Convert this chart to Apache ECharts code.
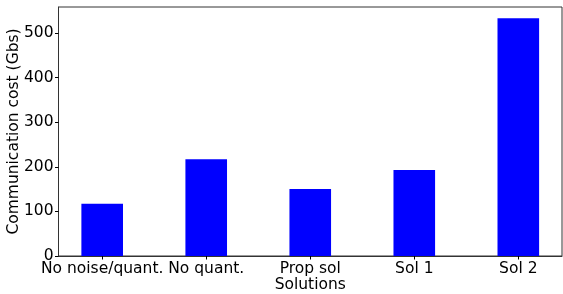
<!DOCTYPE html>
<html>
<head>
<meta charset="utf-8">
<script src="https://cdn.jsdelivr.net/npm/echarts@6/dist/echarts.min.js"></script>
<style>
    html, body { margin: 0; padding: 0; background: #fff; }
    #chart { width: 563px; height: 294px; }
</style>
</head>
<body>
<div id="chart"></div>
<script>
    // values
    var categories = ['No noise/quant.', 'No quant.', 'Prop sol', 'Sol 1', 'Sol 2']
    var costs = [117, 217, 150, 193, 533]
    var yTicks = [0, 100, 200, 300, 400, 500]

    var positions = categories.map(function (c, i) { return i })
    var barData = costs.map(function (v, i) { return [positions[i], v] })

    var font = 'DejaVu Sans'
    var fontSize = 15.5
    var lineColor = '#333'

    var chart = echarts.init(document.getElementById('chart'))
    chart.setOption({
        animation: false,
        grid: {
            left: 58.5,
            right: 1,
            top: 7,
            bottom: 38,
            show: true,
            borderColor: lineColor,
            borderWidth: 1,
            containLabel: false,
            outerBoundsMode: 'none'
        },
        xAxis: {
            type: 'value',
            min: -0.42,
            max: 4.42,
            name: 'Solutions',
            nameLocation: 'middle',
            nameGap: 21,
            nameMoveOverlap: false,
            nameTextStyle: { fontFamily: font, fontSize: fontSize, color: '#000' },
            splitLine: { show: false },
            axisLine: { show: true, onZero: false, lineStyle: { color: lineColor, width: 1 } },
            axisTick: { show: true, length: 3.5, customValues: positions, lineStyle: { color: '#000' } },
            axisLabel: {
                customValues: positions,
                margin: 5,
                fontFamily: font,
                fontSize: fontSize,
                color: '#000',
                formatter: function (v) { return categories[Math.round(v)] }
            }
        },
        yAxis: {
            type: 'value',
            min: 0,
            max: 558,
            name: 'Communication cost (Gbs)',
            nameLocation: 'middle',
            nameGap: 37,
            nameMoveOverlap: false,
            nameTextStyle: { fontFamily: font, fontSize: fontSize, color: '#000' },
            splitLine: { show: false },
            axisLine: { show: true, onZero: false, lineStyle: { color: lineColor, width: 1 } },
            axisTick: { show: true, length: 3.5, customValues: yTicks, lineStyle: { color: '#000' } },
            axisLabel: {
                customValues: yTicks,
                margin: 5,
                fontFamily: font,
                fontSize: fontSize,
                color: '#000'
            }
        },
        series: [{
            type: 'bar',
            data: barData,
            barWidth: '40%',
            itemStyle: { color: '#0000ff' }
        }]
    })
</script>
</body>
</html>
